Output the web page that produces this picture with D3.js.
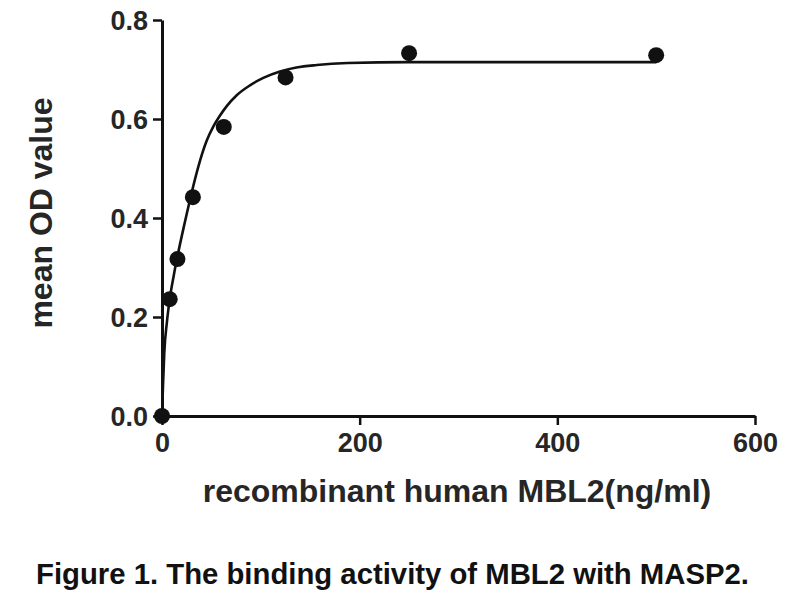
<!DOCTYPE html>
<html>
  <head>
    <meta charset="utf-8" />
    <title>MBL2 binding activity</title>
    <style>
      body { margin: 0; background: #fff; }
      text { font-family: "Liberation Sans", Arial, sans-serif; font-weight: bold; }
    </style>
  </head>
  <body>
    <div id="plot"></div>
    <script src="https://d3js.org/d3.v7.min.js"></script>
    <script>
      // measured points: MBL2 concentration (ng/ml) and mean OD
      const concentrations = [0, 7.8125, 15.625, 31.25, 62.5, 125, 250, 500];
      const odValues = [0, 0.236, 0.317, 0.442, 0.584, 0.684, 0.733, 0.729];

      // fitted curve
      const fitX = [0, 1, 2.3, 5, 7.8, 12, 15.6, 21.6, 25, 31.7, 38.5, 45.2, 52, 58.7, 65.5, 75.6, 89, 102.5, 119.4, 136, 156.6, 188, 250, 500];
      const fitY = [0, 0.06, 0.127, 0.19, 0.236, 0.285, 0.322, 0.378, 0.408, 0.465, 0.516, 0.556, 0.585, 0.607, 0.626, 0.648, 0.668, 0.683, 0.696, 0.704, 0.709, 0.713, 0.715, 0.715];

      const xTicks = [0, 200, 400, 600];
      const yTicks = [0, 0.2, 0.4, 0.6, 0.8];

      const width = 800,
        height = 600;

      const svg = d3
        .select("#plot")
        .append("svg")
        .attr("width", width)
        .attr("height", height);

      svg.append("rect").attr("width", width).attr("height", height).attr("fill", "#fff");

      const x = d3.scaleLinear().domain([0, 600]).range([162, 755]);
      const y = d3.scaleLinear().domain([0, 0.8]).range([416, 20]);

      // fitted line
      const line = d3
        .line()
        .x((d) => x(d[0]))
        .y((d) => y(d[1]))
        .curve(d3.curveMonotoneX);

      svg
        .append("path")
        .datum(fitX.map((v, i) => [v, fitY[i]]))
        .attr("d", line)
        .attr("fill", "none")
        .attr("stroke", "#111")
        .attr("stroke-width", 2.6);

      // x axis
      const gx = svg
        .append("g")
        .attr("transform", `translate(0, ${y(0)})`)
        .call(d3.axisBottom(x).tickValues(xTicks).tickSize(9).tickSizeOuter(0).tickPadding(8));

      // y axis
      const gy = svg
        .append("g")
        .attr("transform", `translate(${x(0)}, 0)`)
        .call(
          d3.axisLeft(y).tickValues(yTicks).tickSize(9).tickSizeOuter(0).tickPadding(5)
            .tickFormat(d3.format(".1f"))
        );

      [gx, gy].forEach((g) => {
        g.select(".domain").attr("stroke", "#111").attr("stroke-width", 3);
        g.selectAll(".tick line").attr("stroke", "#111").attr("stroke-width", 2.5);
        g.selectAll(".tick text")
          .attr("fill", "#262626")
          .style("font-size", "27px")
          .style("font-family", '"Liberation Sans", Arial, sans-serif')
          .style("font-weight", "bold");
      });
      gy.selectAll(".tick text").attr("dy", "0.36em");

      // data points
      svg
        .append("g")
        .selectAll("circle")
        .data(concentrations)
        .join("circle")
        .attr("cx", (d) => x(d))
        .attr("cy", (d, i) => y(odValues[i]))
        .attr("r", 8)
        .attr("fill", "#111");

      // axis titles
      svg
        .append("text")
        .attr("x", 457)
        .attr("y", 502)
        .attr("text-anchor", "middle")
        .attr("fill", "#262626")
        .style("font-size", "32px")
        .text("recombinant human MBL2(ng/ml)");

      svg
        .append("text")
        .attr("transform", "translate(52, 213) rotate(-90)")
        .attr("text-anchor", "middle")
        .attr("fill", "#262626")
        .style("font-size", "32px")
        .text("mean OD value");

      // caption
      svg
        .append("text")
        .attr("x", 36)
        .attr("y", 584)
        .attr("fill", "#111")
        .style("font-size", "29.3px")
        .text("Figure 1. The binding activity of MBL2 with MASP2.");
    </script>
  </body>
</html>
